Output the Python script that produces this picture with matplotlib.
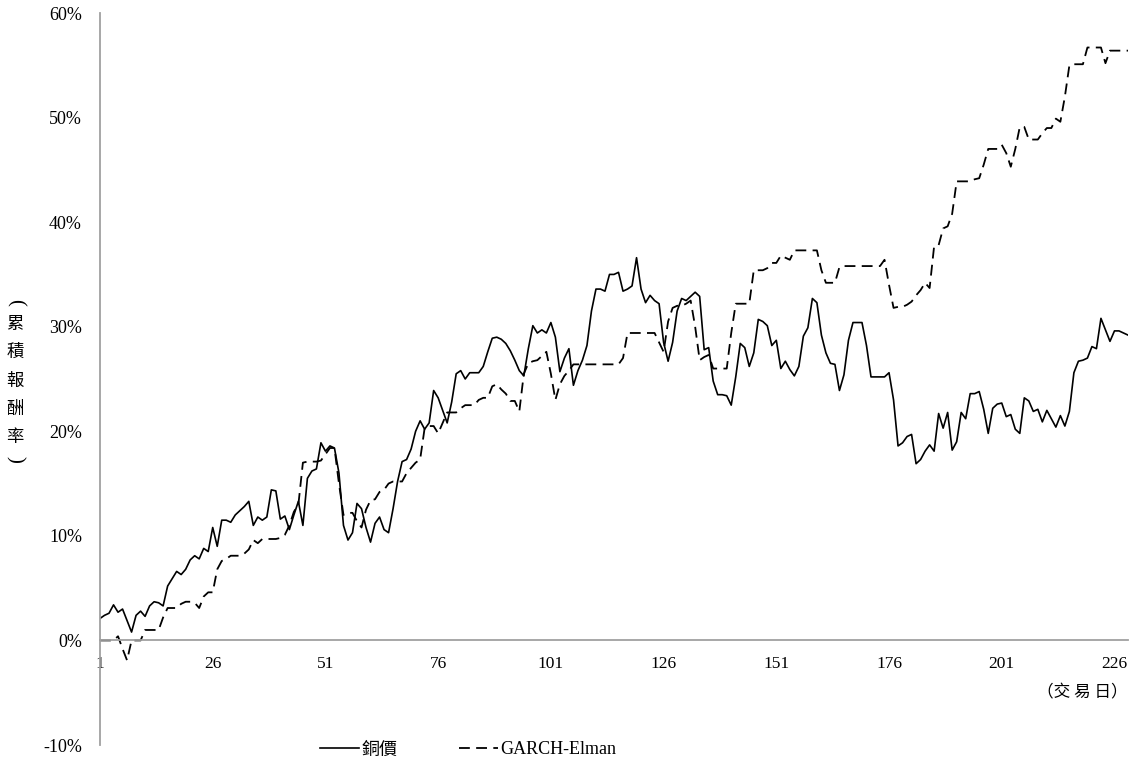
import matplotlib
matplotlib.use("Agg")
import matplotlib.pyplot as plt
from matplotlib.ticker import PercentFormatter, FixedLocator

plt.rcParams["font.family"] = ["Liberation Serif", "Noto Sans CJK TC"]
plt.rcParams["axes.unicode_minus"] = False

# cumulative return (%) per trading day
copper = [
    2.1, 2.4, 2.6, 3.4, 2.7, 3.0, 1.9, 0.8, 2.4, 2.8,
    2.3, 3.3, 3.7, 3.6, 3.3, 5.2, 5.9, 6.6, 6.3, 6.8,
    7.7, 8.1, 7.8, 8.8, 8.5, 10.8, 9.0, 11.5, 11.5, 11.3,
    12.0, 12.4, 12.8, 13.3, 11.0, 11.8, 11.5, 11.8, 14.4, 14.3,
    11.6, 11.9, 10.6, 12.0, 13.3, 11.0, 15.5, 16.2, 16.4, 18.9,
    18.1, 18.6, 18.4, 16.0, 11.0, 9.6, 10.3, 13.1, 12.6, 10.8,
    9.4, 11.2, 11.8, 10.6, 10.3, 12.6, 15.2, 17.1, 17.3, 18.3,
    20.0, 21.0, 20.2, 20.8, 23.9, 23.2, 22.0, 20.8, 22.8, 25.5,
    25.8, 25.0, 25.6, 25.6, 25.6, 26.2, 27.6, 28.9, 29.0, 28.8,
    28.4, 27.7, 26.8, 25.8, 25.3, 27.9, 30.1, 29.4, 29.7, 29.4,
    30.4, 29.0, 25.7, 27.0, 27.9, 24.4, 25.8, 26.8, 28.2, 31.5,
    33.6, 33.6, 33.4, 35.0, 35.0, 35.2, 33.4, 33.6, 33.9, 36.6,
    33.6, 32.3, 33.0, 32.5, 32.2, 28.5, 26.7, 28.5, 31.5, 32.7,
    32.5, 32.9, 33.3, 32.9, 27.8, 28.0, 24.8, 23.5, 23.5, 23.4,
    22.5, 25.2, 28.4, 28.0, 26.2, 27.5, 30.7, 30.5, 30.1, 28.2,
    28.7, 26.0, 26.7, 25.9, 25.3, 26.2, 29.1, 29.9, 32.7, 32.3,
    29.2, 27.5, 26.5, 26.4, 23.9, 25.4, 28.7, 30.4, 30.4, 30.4,
    28.2, 25.2, 25.2, 25.2, 25.2, 25.6, 23.0, 18.6, 18.9, 19.5,
    19.7, 16.9, 17.3, 18.1, 18.7, 18.1, 21.7, 20.3, 21.8, 18.2,
    19.0, 21.8, 21.2, 23.6, 23.6, 23.8, 22.1, 19.8, 22.2, 22.6,
    22.7, 21.4, 21.6, 20.2, 19.8, 23.2, 22.9, 21.9, 22.1, 20.9,
    22.0, 21.2, 20.4, 21.5, 20.5, 21.9, 25.6, 26.7, 26.8, 27.0,
    28.1, 27.9, 30.8, 29.7, 28.6, 29.6, 29.6, 29.4, 29.2,
]
garch_elman = [
    0.0, 0.0, 0.0, 0.0, 0.4, -0.8, -1.9, 0.0, 0.0, 0.0,
    1.0, 1.0, 1.0, 1.0, 2.2, 3.1, 3.1, 3.1, 3.5, 3.7,
    3.7, 3.6, 3.1, 4.2, 4.6, 4.6, 6.8, 7.6, 7.8, 8.1,
    8.1, 8.1, 8.3, 8.7, 9.6, 9.3, 9.7, 9.7, 9.7, 9.7,
    9.8, 10.1, 11.0, 12.3, 13.0, 17.0, 17.1, 17.1, 17.1, 17.2,
    17.8, 18.4, 18.4, 15.0, 12.0, 12.2, 12.2, 11.4, 10.8, 12.5,
    13.4, 13.5, 14.2, 14.4, 15.0, 15.2, 15.2, 15.2, 16.0, 16.5,
    17.0, 17.3, 20.3, 20.5, 20.5, 19.8, 20.8, 21.8, 21.8, 21.8,
    22.2, 22.5, 22.5, 22.5, 23.0, 23.2, 23.2, 24.3, 24.5, 24.0,
    23.6, 22.9, 22.9, 21.9, 25.5, 26.5, 26.7, 26.8, 27.2, 27.6,
    25.5, 23.0, 24.5, 25.3, 25.8, 26.4, 26.4, 26.4, 26.4, 26.4,
    26.4, 26.4, 26.4, 26.4, 26.4, 26.4, 27.0, 29.4, 29.4, 29.4,
    29.4, 29.4, 29.4, 29.4, 28.5, 27.6, 30.5, 31.8, 32.0, 32.0,
    32.2, 32.5, 30.0, 26.8, 27.1, 27.3, 26.0, 26.0, 26.0, 26.0,
    29.4, 32.2, 32.2, 32.2, 32.2, 35.4, 35.4, 35.4, 35.6, 36.1,
    36.1, 36.8, 36.6, 36.4, 37.3, 37.3, 37.3, 37.3, 37.3, 37.3,
    35.4, 34.2, 34.2, 34.2, 35.7, 35.8, 35.8, 35.8, 35.8, 35.8,
    35.8, 35.8, 35.8, 35.8, 36.4, 34.0, 31.8, 31.9, 31.9, 32.1,
    32.4, 33.0, 33.5, 34.2, 33.7, 37.7, 37.8, 39.4, 39.6, 40.8,
    43.9, 43.9, 43.9, 43.9, 44.1, 44.2, 45.5, 47.0, 47.0, 47.0,
    47.4, 46.6, 45.3, 47.0, 49.1, 49.1, 47.9, 47.9, 47.9, 48.5,
    49.0, 49.0, 49.9, 49.6, 52.0, 55.0, 55.1, 55.1, 55.1, 56.7,
    56.7, 56.7, 56.7, 55.2, 56.4, 56.4, 56.4, 56.4, 56.4,
]
days = list(range(1, len(copper) + 1))
x_ticks = [1, 26, 51, 76, 101, 126, 151, 176, 201, 226]
y_ticks = [-10, 0, 10, 20, 30, 40, 50, 60]
y_title = ["(", "累", "積", "報", "酬", "率", ")"]

fig = plt.figure(figsize=(11.38, 7.69), dpi=100)
ax = fig.add_axes([100 / 1138, 24 / 769, 1028 / 1138, 732 / 769])

ax.plot(days, copper, color="black", lw=1.2, label="銅價")
ax.plot(days, garch_elman, color="black", lw=1.3, dashes=(6, 3.5),
        label="GARCH-Elman")

ax.set_xlim(1, len(days))
ax.set_ylim(-10, 60)
ax.xaxis.set_major_locator(FixedLocator(x_ticks))
ax.yaxis.set_major_locator(FixedLocator(y_ticks))
ax.yaxis.set_major_formatter(PercentFormatter(decimals=0))

axis_grey = "#a0a0a0"
for side in ("top", "right"):
    ax.spines[side].set_visible(False)
ax.spines["bottom"].set_position(("data", 0))
for side in ("bottom", "left"):
    ax.spines[side].set_color(axis_grey)
    ax.spines[side].set_linewidth(1.3)
ax.tick_params(axis="both", length=0, labelsize=12.5, colors="black")
ax.tick_params(axis="y", labelsize=13, pad=13)
ax.tick_params(axis="x", pad=11)

# vertical axis title, one character per row; brackets turned sideways
cjk = ["Noto Sans CJK TC", "Liberation Serif"]
title_rows = [302, 324, 352, 381, 409, 437, 459]
for ch, row in zip(y_title, title_rows):
    if ch in "()":
        fig.text(15 / 1138, 1 - row / 769, ch, ha="center", va="center",
                 fontsize=15, rotation=-90, family="Liberation Serif")
    else:
        fig.text(15 / 1138, 1 - row / 769, ch, ha="center", va="center",
                 fontsize=12.5, family=cjk)
fig.text(1128 / 1138, 1 - 693 / 769, "（交 易 日）", ha="right", va="center",
         fontsize=12, family=cjk)

fig.legend(loc="center", bbox_to_anchor=(468 / 1138, 1 - 750 / 769), ncol=2,
           frameon=False, fontsize=13, handlelength=2.2, handletextpad=0.1,
           columnspacing=3.4)

fig.savefig("out.png", dpi=100)
